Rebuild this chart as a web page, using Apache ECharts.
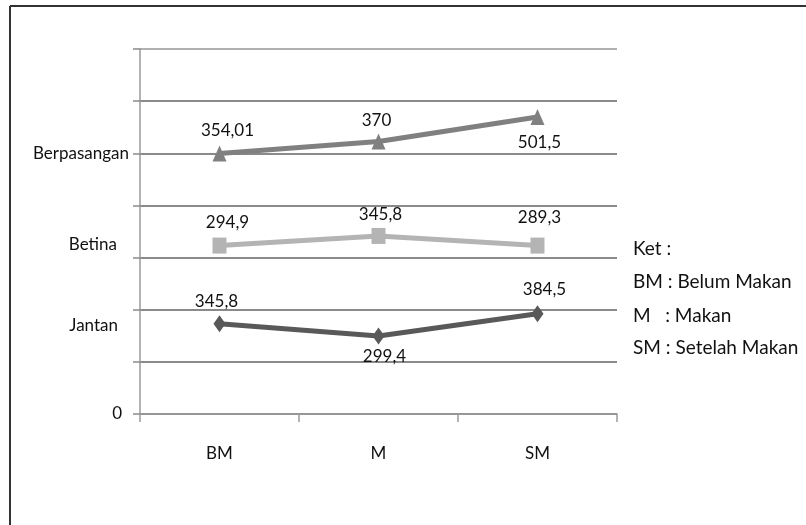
<!DOCTYPE html>
<html>
<head>
<meta charset="utf-8">
<script src="https://cdn.jsdelivr.net/npm/echarts@6/dist/echarts.min.js"></script>
<style>
html,body{margin:0;padding:0;background:#fff;}
#chart{width:806px;height:525px;}
</style>
</head>
<body>
<div id="chart"></div>
<script>
// ---- data ----
var categories = ['BM', 'M', 'SM'];
var seriesNames = ['Berpasangan', 'Betina', 'Jantan'];
// plotted positions (axis units)
var berpasanganValues = [999, 1045, 1139];
var betinaValues = [646, 683, 646];
var jantanValues = [345.8, 299.4, 384.5];
// data label texts as printed
var berpasanganLabels = ['354,01', '370', '501,5'];
var betinaLabels = ['294,9', '345,8', '289,3'];
var jantanLabels = ['345,8', '299,4', '384,5'];
// y axis labels
var yLabelValues = [0, 340, 650, 1000];
var yLabelTexts = ['0', 'Jantan', 'Betina', 'Berpasangan'];
// key text
var keyLines = ['Ket :', 'BM : Belum Makan', 'M   : Makan', 'SM : Setelah Makan'];

// ---- styling ----
var FONT = 'Lato, "Liberation Sans", sans-serif';
var TXT = '#111';
var yLabelPad = {'0': 7, 'Jantan': 11, 'Betina': 12, 'Berpasangan': 0};

function makeData(values, labels, offsets) {
  return values.map(function (v, i) {
    return {
      value: v,
      label: { show: true, position: 'inside', offset: offsets[i], formatter: labels[i] }
    };
  });
}

var chart = echarts.init(document.getElementById('chart'), null, {renderer: 'canvas'});

var labelBase = { fontFamily: FONT, fontSize: 17, color: TXT };

var option = {
  animation: false,
  backgroundColor: '#fff',
  grid: { left: 140, right: 189, top: 49, bottom: 111, containLabel: false },
  xAxis: {
    type: 'category',
    data: categories,
    boundaryGap: true,
    axisLine: { show: true, lineStyle: { color: '#9a9a9a', width: 1.5 } },
    axisTick: { show: true, length: 8, inside: false, lineStyle: { color: '#9a9a9a', width: 1.5 } },
    axisLabel: { margin: 31, fontFamily: FONT, fontSize: 17, color: TXT },
    splitLine: { show: false }
  },
  yAxis: {
    type: 'value',
    min: 0,
    max: 1400,
    interval: 200,
    axisLine: { show: true, lineStyle: { color: '#9a9a9a', width: 1.5 } },
    axisTick: { show: true, length: 7, inside: false, lineStyle: { color: '#8a8a8a', width: 1.5 } },
    axisLabel: {
      customValues: yLabelValues,
      margin: 11,
      fontFamily: FONT, fontSize: 17, color: TXT,
      formatter: function (v) {
        var idx = yLabelValues.indexOf(v);
        if (idx < 0) return '';
        return '{t' + idx + '|' + yLabelTexts[idx] + '}';
      },
      rich: (function () {
        var r = {};
        yLabelTexts.forEach(function (t, i) {
          r['t' + i] = { fontFamily: FONT, fontSize: 17, color: TXT, padding: [0, yLabelPad[t], 0, 0] };
        });
        return r;
      })()
    },
    splitLine: {
      show: true,
      lineStyle: { color: ['#8a8a8a', '#8a8a8a', '#8a8a8a', '#8a8a8a', '#8a8a8a', '#8a8a8a', '#8a8a8a', '#b0b0b0'], width: 2 }
    }
  },
  series: [
    {
      name: seriesNames[0],
      type: 'line',
      data: makeData(berpasanganValues, berpasanganLabels, [[8, -23], [-2, -21], [2, 25]]),
      symbol: 'triangle',
      symbolSize: [14, 16],
      lineStyle: { color: '#808080', width: 5 },
      itemStyle: { color: '#808080' },
      label: labelBase
    },
    {
      name: seriesNames[1],
      type: 'line',
      data: makeData(betinaValues, betinaLabels, [[8, -23], [2, -21], [2, -28]]),
      symbol: 'rect',
      symbolSize: [14, 16],
      lineStyle: { color: '#b4b4b4', width: 5 },
      itemStyle: { color: '#b4b4b4' },
      label: labelBase
    },
    {
      name: seriesNames[2],
      type: 'line',
      data: makeData(jantanValues, jantanLabels, [[-3, -22], [6, 21], [7, -24]]),
      symbol: 'diamond',
      symbolSize: [12, 17],
      lineStyle: { color: '#595959', width: 5 },
      itemStyle: { color: '#595959' },
      label: labelBase
    }
  ],
  graphic: [
    { type: 'line', shape: { x1: 10, y1: 6, x2: 806, y2: 6 }, style: { stroke: '#333', lineWidth: 2 } },
    { type: 'line', shape: { x1: 10, y1: 6, x2: 10, y2: 525 }, style: { stroke: '#333', lineWidth: 2 } }
  ].concat(keyLines.map(function (t, i) {
    var ys = [250, 283, 317, 349];
    return {
      type: 'text',
      left: 633,
      top: ys[i] - 11,
      style: { text: t, fontFamily: FONT, fontSize: 19, fill: TXT }
    };
  }))
};

chart.setOption(option);
</script>
</body>
</html>
